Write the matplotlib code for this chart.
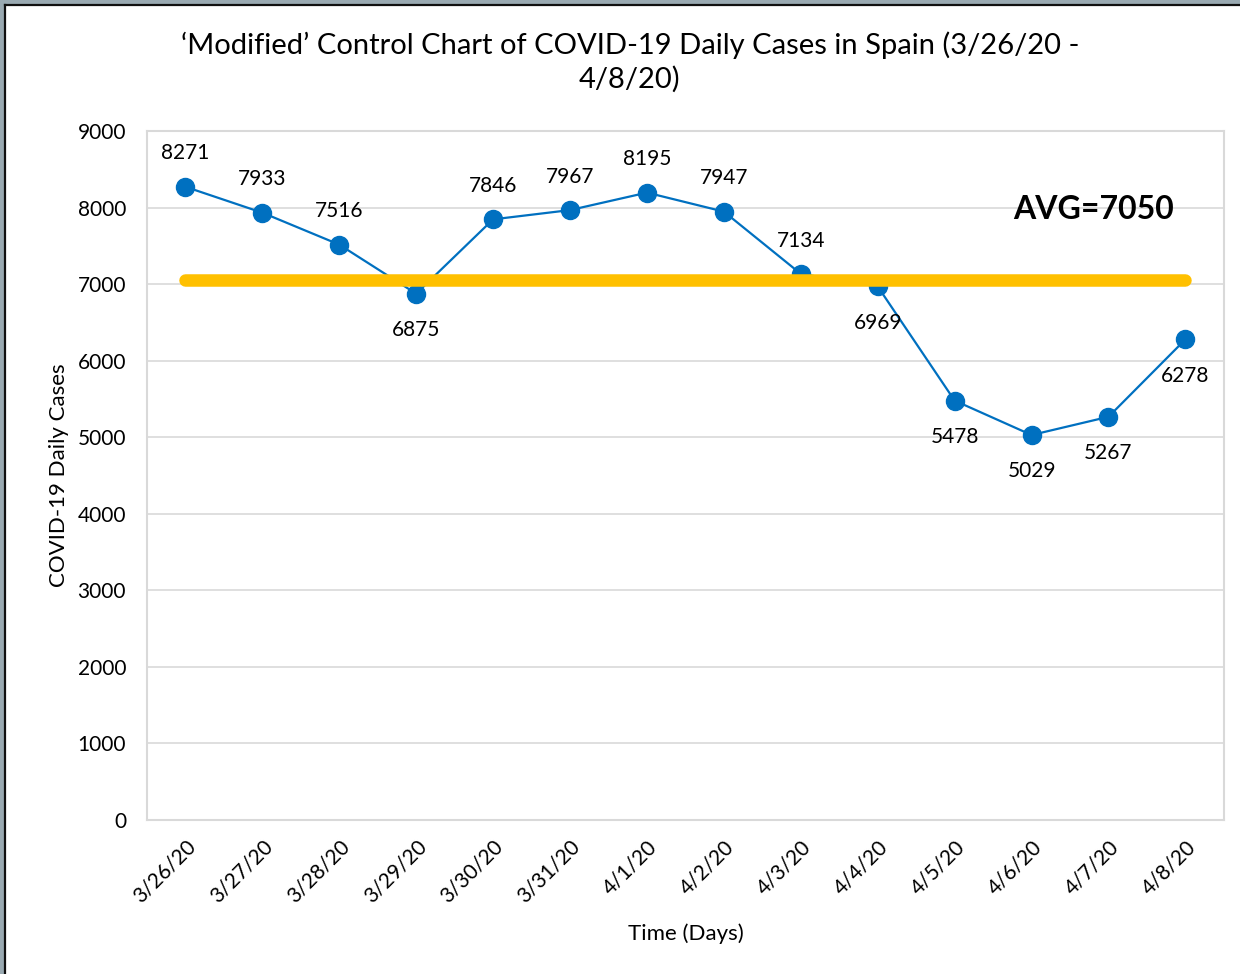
import matplotlib
matplotlib.use("Agg")
import matplotlib.pyplot as plt
from matplotlib.lines import Line2D

dates = ["3/26/20", "3/27/20", "3/28/20", "3/29/20", "3/30/20", "3/31/20", "4/1/20",
         "4/2/20", "4/3/20", "4/4/20", "4/5/20", "4/6/20", "4/7/20", "4/8/20"]
cases = [8271, 7933, 7516, 6875, 7846, 7967, 8195, 7947, 7134, 6969, 5478, 5029, 5267, 6278]
label_below = [False, False, False, True, False, False, False, False, False, True, True, True, True, True]
avg_value = 7050
y_ticks = [0, 1000, 2000, 3000, 4000, 5000, 6000, 7000, 8000, 9000]

plt.rcParams['font.family'] = ['Lato', 'DejaVu Sans']

fig = plt.figure(figsize=(12.4, 9.74), dpi=100)
ax = fig.add_axes([0.1185, 0.1581, 0.8685, 0.7074])

x = list(range(len(dates)))
ax.plot(x, cases, color="#0070C0", linewidth=1.6, marker="o", markersize=13,
        markerfacecolor="#0070C0", markeredgecolor="#0070C0", zorder=3)
ax.plot([x[0], x[-1]], [avg_value, avg_value], color="#FFC000", linewidth=9,
        solid_capstyle="round", zorder=4)

for xi, v, below in zip(x, cases, label_below):
    ax.annotate(str(v), (xi, v), xytext=(0, -26 if below else 24), textcoords="offset points",
                ha="center", va="center", fontsize=15, color="black", zorder=5)

ax.text(12.85, 7970, f"AVG={avg_value}", ha="right", va="center", fontsize=23,
        fontweight="bold", color="black")

ax.set_xlim(-0.5, len(dates) - 0.5)
ax.set_ylim(0, 9000)
ax.set_yticks(y_ticks)
ax.set_yticklabels([str(t) for t in y_ticks], fontsize=15)
ax.set_xticks(x)
ax.set_xticklabels(dates, rotation=45, ha="right", va="top", fontsize=15,
                   rotation_mode="anchor")
ax.tick_params(length=0, pad=12)
ax.tick_params(axis="y", pad=15)
ax.grid(axis="y", color="#D9D9D9", linewidth=1.2)
ax.set_axisbelow(True)
for s in ax.spines.values():
    s.set_color("#D9D9D9")
    s.set_linewidth(1.5)

ax.set_ylabel("COVID-19 Daily Cases", fontsize=16, labelpad=6)
ax.set_xlabel("Time (Days)", fontsize=16, labelpad=12)

fig.text(0.508, 0.968, "‘Modified’ Control Chart of COVID-19 Daily Cases in Spain (3/26/20 -\n4/8/20)",
         ha="center", va="top", fontsize=21, linespacing=1.33)

# window frame along the top and left edges: grey band with a dark inner line
W, H = 1240.0, 974.0
for xs, ys, col, lw in [
    ([0, 1], [1 - 2 / H, 1 - 2 / H], "#9AAAB2", 4),
    ([2 / W, 2 / W], [0, 1], "#9AAAB2", 4),
    ([5 / W, 1], [1 - 5 / H, 1 - 5 / H], "#111111", 1.6),
    ([5 / W, 5 / W], [0, 1 - 5 / H], "#111111", 1.6),
]:
    fig.add_artist(Line2D(xs, ys, transform=fig.transFigure, color=col, linewidth=lw))

fig.savefig("out.png", dpi=100)
